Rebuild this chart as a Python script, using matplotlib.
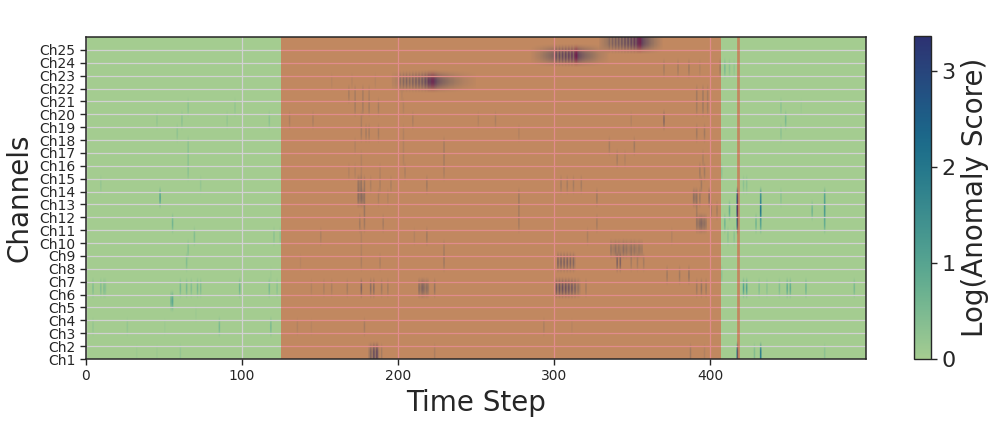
import numpy as np
import matplotlib
matplotlib.use("Agg")
import matplotlib.pyplot as plt
import seaborn as sns

# ---- data: (time step, log anomaly score) spikes per channel; baseline 0 ----
n_steps = 500
ch01 = [(32, 0.1), (45, 0.1), (60, 0.2), (189, 0.5), (223, 0.4), (387, 0.6), (396, 0.3), (417, 2.0),
        (428, 0.4), (432, 1.8), (473, 0.3)]
ch02 = []
ch03 = [(4, 0.2), (26, 0.2), (50, 0.1), (85, 0.5), (118, 0.5), (135, 0.3), (144, 0.2), (178, 0.5),
        (293, 0.4), (311, 0.2)]
ch04 = [(70, 0.1)]
ch05 = [(54, 0.6), (55, 0.9)]
ch06 = [(4, 0.4), (9, 0.4), (11, 0.4), (12, 0.3), (60, 0.5), (64, 0.5), (67, 0.4), (71, 0.5), (73, 0.4),
        (98, 0.6), (117, 0.5), (122, 0.3), (144, 0.3), (152, 0.4), (157, 0.4), (167, 0.5), (176, 1.3),
        (182, 1.0), (184, 1.0), (189, 0.6), (193, 0.5), (213, 1.0), (214, 0.6), (215, 1.3), (216, 1.1),
        (217, 0.6), (218, 1.0), (219, 0.6), (223, 0.8), (320, 0.5), (391, 0.6), (394, 0.8), (397, 0.6),
        (421, 1.0), (423, 1.0), (431, 0.4), (436, 0.3), (444, 0.4), (449, 0.8), (451, 0.8), (461, 0.6),
        (492, 0.5)]
ch07 = [(118, 0.1), (372, 0.6), (380, 0.6), (386, 0.8), (407, 0.3)]
ch08 = [(64, 0.4), (137, 0.2), (176, 0.4), (188, 0.4), (229, 0.6), (340, 1.4), (342, 1.4),
        (349, 0.5), (353, 0.5), (357, 0.5)]
ch09 = [(65, 0.35), (176, 0.3), (229, 0.5)]
ch10 = [(69, 0.4), (120, 0.3), (124, 0.3), (150, 0.4), (176, 0.3), (210, 0.3), (218, 0.6), (321, 0.4),
        (375, 0.3), (411, 0.3), (415, 0.3)]
ch11 = [(55, 0.6), (175, 0.6), (178, 0.6), (190, 0.5), (277, 0.5), (327, 0.5), (391, 0.8), (392, 0.6),
        (393, 1.0), (394, 1.2), (395, 0.8), (396, 0.9), (397, 0.6), (409, 0.6), (417, 2.0), (429, 0.6),
        (432, 1.0), (473, 0.8)]
ch12 = [(178, 0.7), (277, 0.5), (391, 0.5), (400, 1.0), (404, 0.5), (412, 0.8), (417, 3.0), (432, 2.0),
        (465, 0.6), (473, 1.2)]
ch13 = [(47, 1.0), (174, 1.0), (175, 0.6), (176, 1.1), (177, 0.7), (178, 0.8), (187, 0.4), (193, 0.3),
        (277, 0.6), (327, 0.6), (389, 0.9), (390, 0.6), (391, 0.9), (393, 0.7), (399, 1.2), (417, 2.5),
        (432, 1.5), (445, 0.3), (473, 1.0)]
ch14 = [(9, 0.2), (73, 0.2), (174, 0.8), (175, 0.5), (176, 0.8), (178, 0.7), (182, 0.4), (188, 0.4),
        (195, 0.4), (218, 0.6), (304, 0.5), (308, 0.5), (312, 0.5), (317, 0.5), (394, 0.6), (421, 0.3),
        (423, 0.3)]
ch15 = [(65, 0.3), (168, 0.3), (172, 0.3), (176, 0.3), (188, 0.3), (204, 0.4), (229, 0.4), (393, 0.6),
        (396, 0.6), (407, 0.3)]
ch16 = [(65, 0.3), (176, 0.3), (203, 0.3), (229, 0.5), (340, 0.5), (345, 0.3), (395, 0.4)]
ch17 = [(65, 0.3), (172, 0.3), (203, 0.3), (229, 0.5), (335, 0.5), (351, 0.6)]
ch18 = [(58, 0.25), (176, 0.5), (179, 0.5), (181, 0.5), (187, 0.5), (203, 0.3), (277, 0.3), (391, 0.6),
        (396, 0.6), (445, 0.3)]
ch19 = [(45, 0.2), (61, 0.3), (90, 0.2), (117, 0.3), (130, 0.4), (145, 0.4), (176, 0.4), (209, 0.4),
        (251, 0.3), (262, 0.4), (349, 0.3), (370, 1.2), (448, 0.5)]
ch20 = [(65, 0.3), (95, 0.2), (172, 0.5), (177, 0.5), (181, 0.5), (187, 0.5), (203, 0.3), (391, 0.5),
        (395, 0.6), (398, 0.5), (445, 0.3), (458, 0.1)]
ch21 = [(168, 0.5), (172, 0.5), (177, 0.5), (181, 0.4), (202, 0.2), (391, 0.6), (395, 0.6), (398, 0.5)]
ch22 = [(157, 0.2), (170, 0.2), (185, 0.2)]
ch23 = [(370, 0.5), (379, 0.5), (386, 0.6), (393, 0.3), (406, 0.6), (409, 0.5), (412, 0.3), (415, 0.2)]
ch24 = []
ch25 = []

# contiguous runs of scores read step by step: (channel number, first step, values)
run_ch01 = (1, 181, [0.5, 1.3, 0.6, 2.0, 0.8, 2.2, 0.6])
run_ch06 = (6, 301, [1.7, 0.6, 1.9, 0.7, 2.0, 0.6, 1.9, 0.7, 1.8, 0.6, 1.7, 0.5, 1.4, 0.4, 0.8, 0.4])
run_ch08 = (8, 302, [1.3, 0.4, 1.4, 0.3, 1.4, 0.3, 1.4, 0.3, 1.3, 0.3, 1.2, 0.3])
run_ch09 = (9, 336, [0.8, 0.4, 0.5, 0.9, 0.4, 0.8, 0.5, 0.4, 1.0, 0.5, 0.8, 0.4, 0.5, 0.9, 0.4,
                     0.8, 0.5, 0.4, 0.7, 0.5, 0.5])
run_ch22 = (22, 196, [0.2, 0.2, 0.3, 0.3, 0.4, 1.0, 0.4, 1.2, 0.5, 1.3, 0.5, 1.2, 0.5, 1.4, 0.6, 1.5,
                      0.7, 1.6, 0.8, 1.7, 1.0, 2.0, 1.4, 2.6, 2.4, 2.9, 3.0, 2.6, 2.1, 1.8, 1.6, 1.45,
                      1.3, 1.2, 1.1, 1.0, 0.9, 0.8, 0.75, 0.7, 0.6, 0.55, 0.5, 0.45, 0.4, 0.35, 0.3,
                      0.27, 0.24, 0.2, 0.18, 0.15, 0.12, 0.1])
run_ch24 = (24, 285, [0.1, 0.15, 0.2, 0.3, 0.35, 0.4, 0.5, 0.6, 0.7, 0.8, 0.9, 1.0, 1.1, 1.2, 1.3,
                      1.4, 2.0, 0.9, 2.1, 1.0, 2.2, 1.0, 2.3, 1.1, 2.4, 1.2, 2.6, 1.3, 3.0, 3.36,
                      2.2, 1.9, 1.7, 1.5, 1.35, 1.2, 1.1, 1.0, 0.9, 0.8, 0.7, 0.6, 0.5, 0.4, 0.35,
                      0.3, 0.25, 0.2, 0.15, 0.1])
run_ch25 = (25, 329, [0.2, 0.3, 0.4, 0.5, 0.6, 0.7, 1.2, 0.6, 1.4, 0.7, 1.5, 0.8, 1.6, 0.8, 1.8, 0.9,
                      2.0, 1.0, 2.1, 1.1, 2.3, 1.3, 2.6, 1.6, 2.8, 3.1, 3.2, 2.4, 2.0, 1.7, 1.5, 1.3,
                      1.1, 0.9, 0.8, 0.6, 0.5, 0.4, 0.3, 0.2, 0.1])

channel_spikes = [ch01, ch02, ch03, ch04, ch05, ch06, ch07, ch08, ch09, ch10, ch11, ch12, ch13,
                  ch14, ch15, ch16, ch17, ch18, ch19, ch20, ch21, ch22, ch23, ch24, ch25]
channel_runs = [run_ch01, run_ch06, run_ch08, run_ch09, run_ch22, run_ch24, run_ch25]
channel_labels = [f"Ch{i}" for i in range(1, 26)]
anomaly_span = (125, 407)
anomaly_line = 418
x_ticks = [0, 100, 200, 300, 400]

# ---- build matrix ----
scores = np.zeros((len(channel_spikes), n_steps))
for ci, spikes in enumerate(channel_spikes):
    for step, val in spikes:
        scores[ci, step] = val
for ch, start, vals in channel_runs:
    scores[ch - 1, start:start + len(vals)] = vals

dark = "0.15"
plt.rcParams.update({
    "font.family": ["DejaVu Sans"],
    "text.color": dark,
    "axes.labelcolor": dark,
    "xtick.color": dark,
    "ytick.color": dark,
    "axes.edgecolor": dark,
})

cmap = sns.color_palette("crest", as_cmap=True)

fig = plt.figure(figsize=(9.97, 4.23), dpi=100)
ax = fig.add_axes([86 / 997, (423 - 359) / 423, 780 / 997, 322 / 423])
cax = fig.add_axes([914 / 997, (423 - 359) / 423, 17 / 997, 323 / 423])

im = ax.imshow(scores, origin="lower", aspect="auto", cmap=cmap,
               extent=(0, n_steps, 0, len(channel_spikes)), zorder=0)
ax.set_axisbelow(True)
ax.grid(True, color="0.82", linewidth=0.9)
ax.axvspan(*anomaly_span, color="red", alpha=0.33, linewidth=0, zorder=1)
ax.axvline(anomaly_line, color="red", alpha=0.33, linewidth=2, zorder=1)

ax.set_xlim(0, n_steps)
ax.set_ylim(0, len(channel_spikes))
ax.set_xticks(x_ticks)
ax.set_yticks(np.arange(len(channel_labels)))
ax.set_yticklabels(channel_labels)
ax.tick_params(axis="both", labelsize=10, length=4, width=1)
ax.set_xlabel("Time Step", fontsize=20)
ax.set_ylabel("Channels", fontsize=20)
for s in ax.spines.values():
    s.set_linewidth(1.1)

cb = fig.colorbar(im, cax=cax)
cb.set_ticks([0, 1, 2, 3])
cb.ax.tick_params(labelsize=16, length=4, width=1)
cb.set_label("Log(Anomaly Score)", fontsize=20)
cb.outline.set_linewidth(1.0)

fig.savefig("out.png", dpi=100)
